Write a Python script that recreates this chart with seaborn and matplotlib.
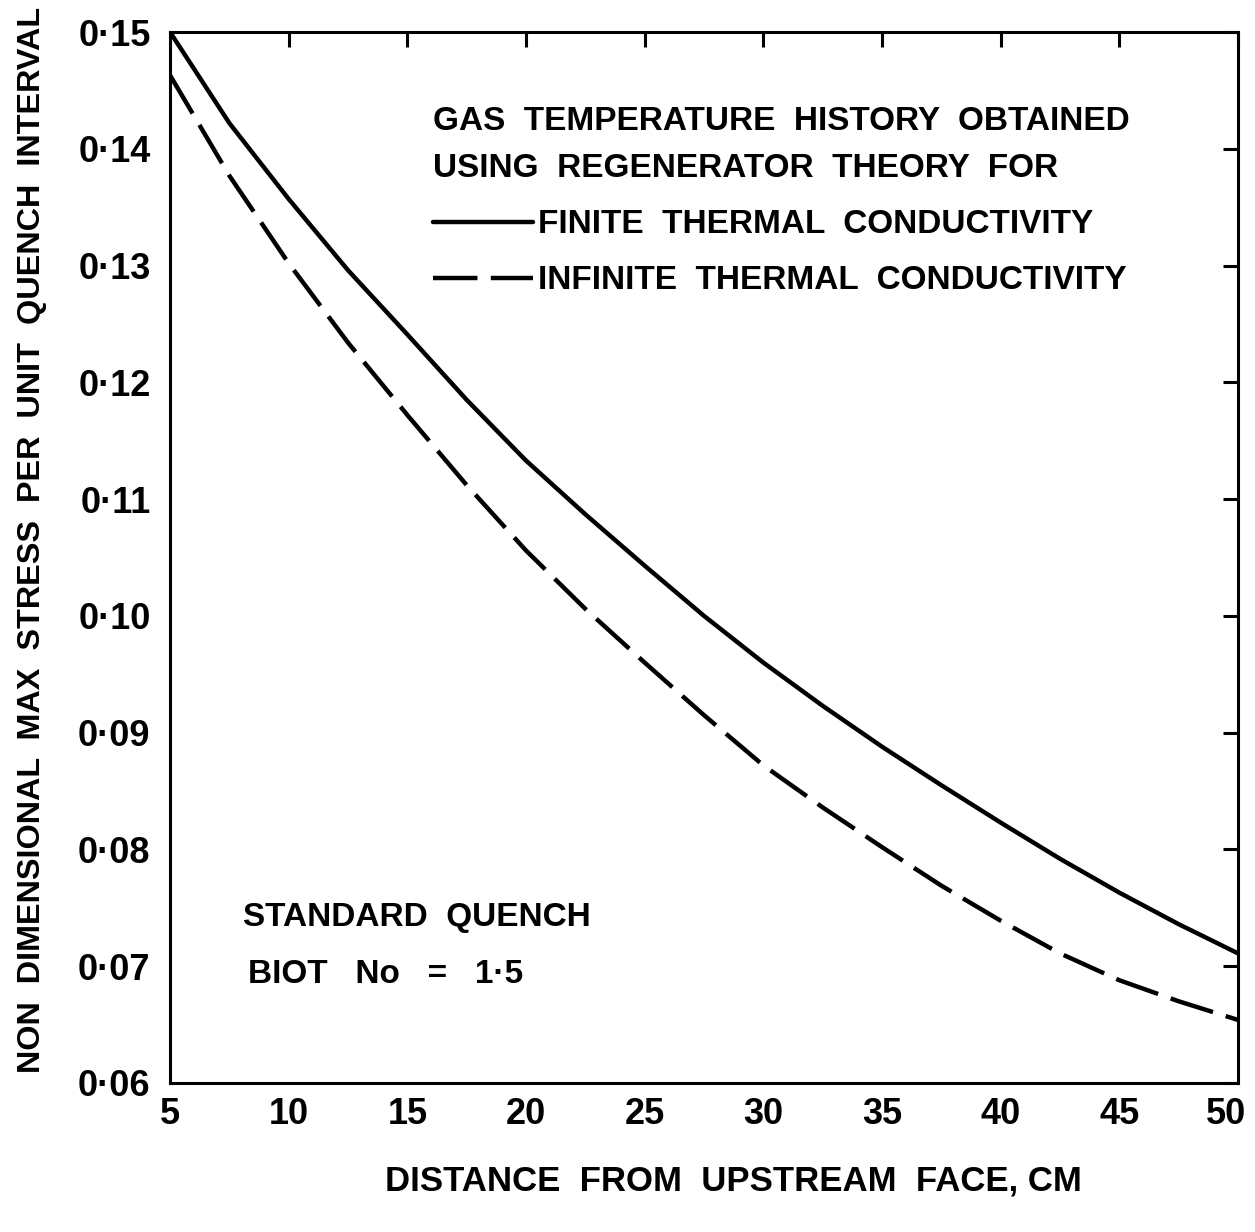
import matplotlib
matplotlib.use("Agg")
import matplotlib.pyplot as plt
import matplotlib.transforms as mtransforms
import seaborn as sns
import pandas as pd

# ---- data ----
distance_cm = [5, 7.5, 10, 12.5, 15, 17.5, 20, 22.5, 25, 27.5, 30, 32.5, 35, 37.5, 40, 42.5, 45, 47.5, 50]
finite_k = [0.1500, 0.1422, 0.1357, 0.1296, 0.1241, 0.1185, 0.1133, 0.1087, 0.1043, 0.1000,
            0.0960, 0.0923, 0.0888, 0.0855, 0.0823, 0.0792, 0.0763, 0.0736, 0.0711]
infinite_k = [0.1463, 0.1377, 0.1302, 0.1234, 0.1172, 0.1112, 0.1056, 0.1006, 0.0960, 0.0915,
              0.0872, 0.0836, 0.0802, 0.0769, 0.0739, 0.0711, 0.0688, 0.0670, 0.0654]
series_names = ["FINITE  THERMAL  CONDUCTIVITY", "INFINITE  THERMAL  CONDUCTIVITY"]
x_ticks = [5, 10, 15, 20, 25, 30, 35, 40, 45, 50]
y_ticks = [0.06, 0.07, 0.08, 0.09, 0.10, 0.11, 0.12, 0.13, 0.14, 0.15]
y_tick_labels = ["0·06", "0·07", "0·08", "0·09", "0·10", "0·11", "0·12", "0·13", "0·14", "0·15"]

df = pd.DataFrame({
    "distance": distance_cm * 2,
    "stress": finite_k + infinite_k,
    "series": [series_names[0]] * len(distance_cm) + [series_names[1]] * len(distance_cm),
})

sns.set_theme(style="white")
FONT = ["Liberation Sans", "DejaVu Sans"]
plt.rcParams["font.family"] = FONT
plt.rcParams["font.weight"] = "bold"
for k in ["text.color", "axes.labelcolor", "xtick.color", "ytick.color", "axes.edgecolor"]:
    plt.rcParams[k] = "black"

FS = 24

fig = plt.figure(figsize=(12.55, 12.32), dpi=100)
ax = fig.add_axes([170 / 1255, 1 - 1083 / 1232, (1238 - 170) / 1255, (1083 - 32) / 1232])

sns.lineplot(data=df, x="distance", y="stress", style="series",
             dashes={series_names[0]: "", series_names[1]: (10, 3)},
             color="black", linewidth=3.2, legend=False, ax=ax, sort=False)

ax.set_xlim(5, 50)
ax.set_ylim(0.06, 0.15)
ax.set_xticks(x_ticks)
ax.set_xticklabels([str(v) for v in x_ticks])
ax.set_yticks(y_ticks)
ax.set_yticklabels(y_tick_labels)
ax.tick_params(axis="both", direction="in", top=True, right=True,
               length=11, width=2.2, color="black", labelsize=26, labelcolor="black")
ax.tick_params(axis="y", pad=14)
ax.tick_params(axis="x", pad=10)
for lab in ax.get_xticklabels() + ax.get_yticklabels():
    lab.set_fontweight("bold")
# last x tick label sits slightly left of its tick, as in the reference
last = ax.get_xticklabels()[-1]
last.set_transform(last.get_transform() + mtransforms.ScaledTranslation(-12 / 100, 0, fig.dpi_scale_trans))

for sp in ax.spines.values():
    sp.set_visible(True)
    sp.set_color("black")
    sp.set_linewidth(2.2)

ax.set_xlabel("DISTANCE  FROM  UPSTREAM  FACE, CM", fontsize=25, fontweight="bold")
ax.xaxis.set_label_coords(0.528, -0.078)
ax.set_ylabel("NON  DIMENSIONAL  MAX  STRESS  PER  UNIT  QUENCH  INTERVAL",
              fontsize=23.3, fontweight="bold")
ax.yaxis.set_label_coords(-0.115, 0.517)

handles = ax.get_lines()[:2]
leg = ax.legend(handles, series_names,
                title="GAS  TEMPERATURE  HISTORY  OBTAINED\nUSING  REGENERATOR  THEORY  FOR",
                loc="upper left", bbox_to_anchor=(0.246, 0.930), frameon=False,
                fontsize=FS, title_fontsize=FS, handlelength=3.0, handletextpad=0.15,
                borderpad=0, borderaxespad=0, labelspacing=0.75, alignment="left")
for t in leg.get_texts():
    t.set_fontweight("bold")
leg.get_title().set_fontweight("bold")
leg.get_title().set_linespacing(1.7)

ax.text(0.068, 0.157, "STANDARD  QUENCH", transform=ax.transAxes,
        fontsize=FS, fontweight="bold", va="center", ha="left")
ax.text(0.073, 0.103, "BIOT   No   =   1·5", transform=ax.transAxes,
        fontsize=FS, fontweight="bold", va="center", ha="left")

fig.savefig("out.png", dpi=100, facecolor="white")
